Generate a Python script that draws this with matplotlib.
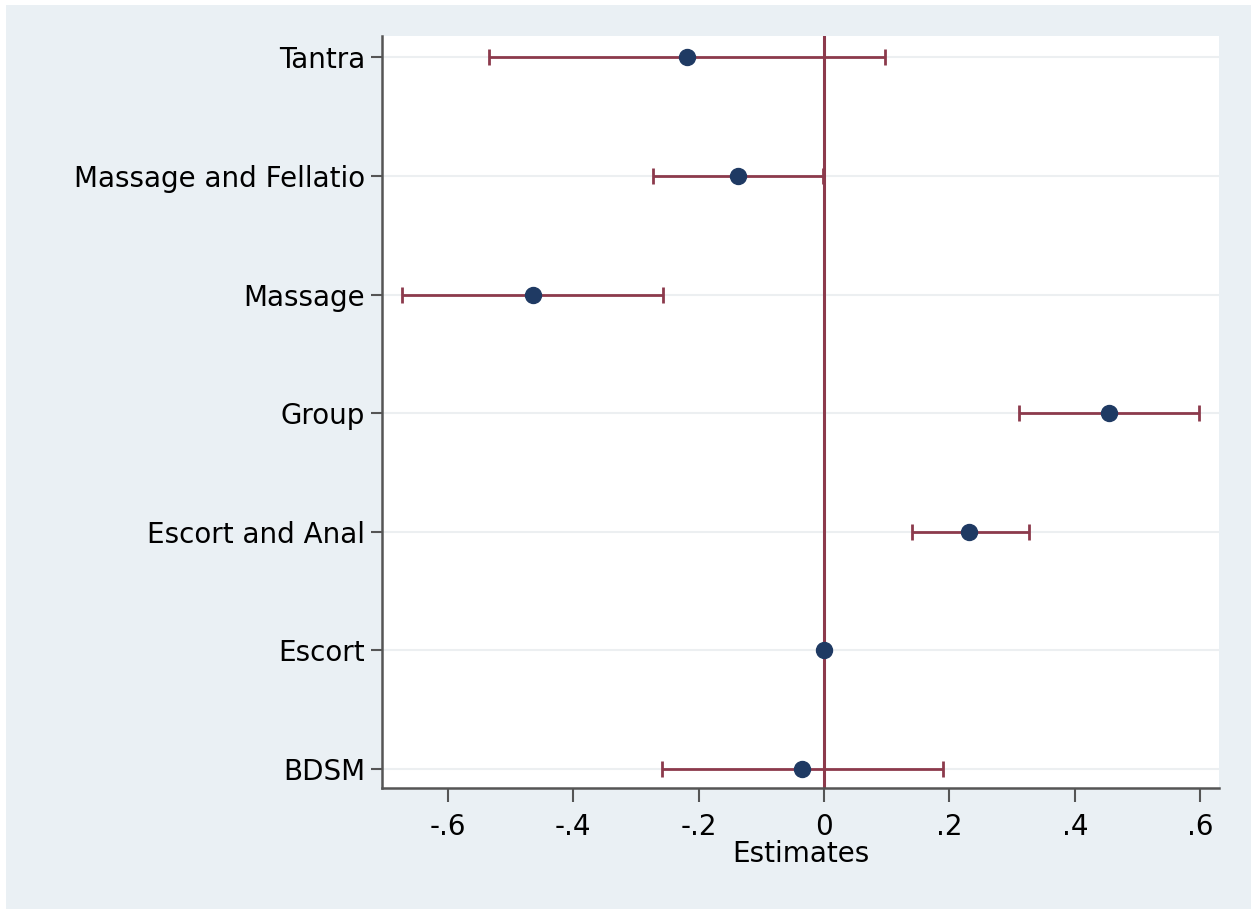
import matplotlib.pyplot as plt
from matplotlib.patches import Rectangle
import numpy as np

# COEFFICIENTS (top to bottom as shown)
labels = ['Tantra', 'Massage and Fellatio', 'Massage', 'Group',
          'Escort and Anal', 'Escort', 'BDSM']
estimate = [-0.219, -0.137, -0.464, 0.455, 0.231, 0.0, -0.035]
ci_low = [-0.535, -0.273, -0.673, 0.311, 0.140, 0.0, -0.258]
ci_high = [0.097, -0.002, -0.257, 0.598, 0.327, 0.0, 0.190]

xticks = [-0.6, -0.4, -0.2, 0, 0.2, 0.4, 0.6]
xtick_labels = ['-.6', '-.4', '-.2', '0', '.2', '.4', '.6']

# STYLE
BG = '#EAF0F4'
MAROON = '#8C3A4C'
NAVY = '#1F3A63'
SPINE = '#555555'

plt.rcParams['font.family'] = ['DejaVu Sans']

fig = plt.figure(figsize=(12.51, 9.09), dpi=100, facecolor='white')
fig.patches.append(Rectangle((6 / 1251, -0.02), 1.02, 1.02 - 5 / 909,
                             transform=fig.transFigure, facecolor=BG,
                             linewidth=0, zorder=-10))

ax = fig.add_axes([382 / 1251, 1 - 788 / 909, (1219 - 382) / 1251, (788 - 36) / 909])
ax.set_facecolor('white')

n = len(labels)
ypos = np.arange(n)[::-1]
est = np.array(estimate)
lo = est - np.array(ci_low)
hi = np.array(ci_high) - est

# GRID
for y in ypos:
    ax.axhline(y, color='#ECEFF1', linewidth=1.5, zorder=0)

# ZERO LINE
ax.axvline(0, color=MAROON, linewidth=2.2, zorder=1)

# ESTIMATES WITH CI
ax.errorbar(est, ypos, xerr=[lo, hi], fmt='none', ecolor=MAROON,
            elinewidth=2.0, capsize=6, capthick=2.0, zorder=2)
ax.plot(est, ypos, 'o', color=NAVY, markersize=11.5, zorder=3)

ax.set_xlim(-0.705, 0.630)
ax.set_ylim(-0.16, 6.18)

ax.set_yticks(ypos)
ax.set_yticklabels(labels, fontsize=20)
ax.set_xticks(xticks)
ax.set_xticklabels(xtick_labels, fontsize=20)
ax.tick_params(axis='y', length=8, width=1.5, color=SPINE, pad=4)
ax.tick_params(axis='x', length=10, width=1.5, color=SPINE, pad=8)

ax.set_xlabel('Estimates', fontsize=20, labelpad=-1)

ax.spines['top'].set_visible(False)
ax.spines['right'].set_visible(False)
for side in ['left', 'bottom']:
    ax.spines[side].set_color(SPINE)
    ax.spines[side].set_linewidth(1.8)

fig.savefig('out.png', dpi=100, facecolor=fig.get_facecolor())
